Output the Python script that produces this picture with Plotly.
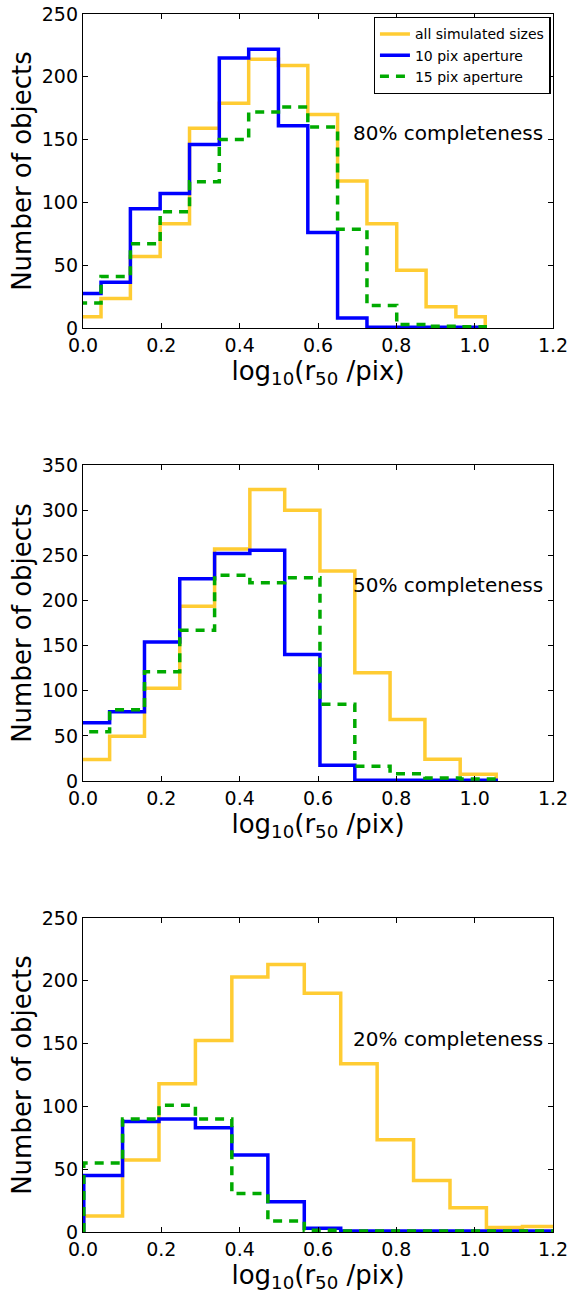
import plotly.graph_objects as go

# ---------------- data ----------------
edges_80 = [-0.030, 0.046, 0.121, 0.197, 0.272, 0.348, 0.423, 0.499, 0.574,
            0.650, 0.725, 0.801, 0.876, 0.952, 1.027]
all_80 = [9, 23.5, 57, 83, 159, 179, 214, 209, 170, 117, 83, 46, 17, 9]
ap10_80 = [27.5, 36.5, 95, 107, 146, 215, 222, 161, 76, 8, 0.5, 0.5, 0.5, 0.5]
ap15_80 = [20, 41, 67, 92.5, 116.5, 150, 172, 176, 160, 78.6, 18, 2.7, 1.3, 1]

edges_50 = [-0.022, 0.068, 0.157, 0.247, 0.336, 0.426, 0.515, 0.605, 0.694,
            0.784, 0.873, 0.963, 1.055]
all_50 = [23.7, 49.7, 102.7, 193.5, 257, 323, 300, 232.5, 120, 68, 24, 7.4]
ap10_50 = [64.5, 76.8, 154, 224, 252, 255.5, 140, 17.4, 0.7, 0.7, 0.7, 0.7]
ap15_50 = [54.5, 79, 121, 167, 228, 219.5, 225, 85, 16.3, 8, 3.3, 2.2]

edges_20 = [0.002, 0.101, 0.194, 0.287, 0.380, 0.472, 0.565, 0.658, 0.751,
            0.844, 0.937, 1.030, 1.122, 1.215]
all_20 = [12.8, 57.4, 118, 152.4, 203, 213, 190, 134, 73.4, 41, 19.4, 3.5, 4.3]
ap10_20 = [45, 88, 90, 83, 61.4, 24, 3, 0.7, 0.7, 0.7, 0.7, 0.7, 0.7]
ap15_20 = [55, 90, 101, 90, 30.6, 8.8, 1.3, 0.8, 0.8, 0.8, 0.8, 0.8, 0.8]

series_names = ["all simulated sizes", "10 pix aperture", "15 pix aperture"]
panel_labels = ["80% completeness", "50% completeness", "20% completeness"]
x_ticks = [0.0, 0.2, 0.4, 0.6, 0.8, 1.0, 1.2]

# ---------------- styling ----------------
YELLOW = "#FFCC33"
BLUE = "#0000FF"
GREEN = "#00AA00"
FONT = "DejaVu Sans"

panels = [
    (edges_80, [all_80, ap10_80, ap15_80], 250, 155),
    (edges_50, [all_50, ap10_50, ap15_50], 350, 217),
    (edges_20, [all_20, ap10_20, ap15_20], 250, 154),
]
styles = [
    dict(color=YELLOW, width=3.5),
    dict(color=BLUE, width=3.5),
    dict(color=GREEN, width=3.5, dash="9px,7px"),
]

# vertical domains (paper coords) computed from pixel layout
H_TOP, H_BOT = 14, 1232
pix = [(14, 328), (465, 781), (918, 1232)]
def dom(t, b):
    span = H_BOT - H_TOP
    return [(H_BOT - b) / span, (H_BOT - t) / span]

fig = go.Figure()

def step_xy(edges, vals):
    xs = [edges[0]] + list(edges[:-1]) + [edges[-1], edges[-1]]
    ys = [0] + list(vals) + [vals[-1], 0]
    return xs, ys

for i, (edges, vals_list, ymax, ylab) in enumerate(panels):
    ax = "" if i == 0 else str(i + 1)
    for j, vals in enumerate(vals_list):
        xs, ys = step_xy(edges, vals)
        fig.add_trace(go.Scatter(
            x=xs, y=ys, mode="lines", line=dict(shape="hv", **styles[j]),
            name=series_names[j], showlegend=(i == 0),
            xaxis="x" + ax, yaxis="y" + ax,
        ))
    common = dict(
        showline=True, linecolor="black", linewidth=1.3, mirror="ticks",
        ticks="inside", ticklen=5, tickcolor="black", tickwidth=1,
        showgrid=False, zeroline=False, automargin=False,
        tickfont=dict(family=FONT, size=19, color="black"),
    )
    fig.update_layout(**{
        "xaxis" + ax: dict(
            domain=[0, 1], range=[0, 1.2], tickvals=x_ticks,
            tickformat=".1f", anchor="y" + ax,
            title=dict(text="log<sub>10</sub>(r<sub>50</sub> /pix)",
                       font=dict(family=FONT, size=26, color="black"),
                       standoff=4),
            **common),
        "yaxis" + ax: dict(
            domain=dom(*pix[i]), range=[0, ymax], dtick=50, anchor="x" + ax,
            title=dict(text="Number of objects",
                       font=dict(family=FONT, size=26, color="black"),
                       standoff=2),
            **common),
    })
    fig.add_annotation(
        x=1.18, y=ylab, xref="x" + ax, yref="y" + ax, text=panel_labels[i],
        showarrow=False, xanchor="right", yanchor="middle",
        font=dict(family=FONT, size=20, color="black"),
    )

fig.update_layout(
    width=570, height=1293,
    margin=dict(l=83, r=17, t=14, b=61, autoexpand=False),
    paper_bgcolor="white", plot_bgcolor="white",
    legend=dict(
        x=0.995, y=0.9975, xanchor="right", yanchor="top",
        bgcolor="white", bordercolor="black", borderwidth=1.3,
        font=dict(family=FONT, size=14, color="black"),
        itemwidth=30, tracegroupgap=0,
    ),
)

fig.write_html(
    "out.html",
    config={"displayModeBar": False},
    post_script="document.body.style.margin='0px';document.body.style.overflow='hidden';",
)
